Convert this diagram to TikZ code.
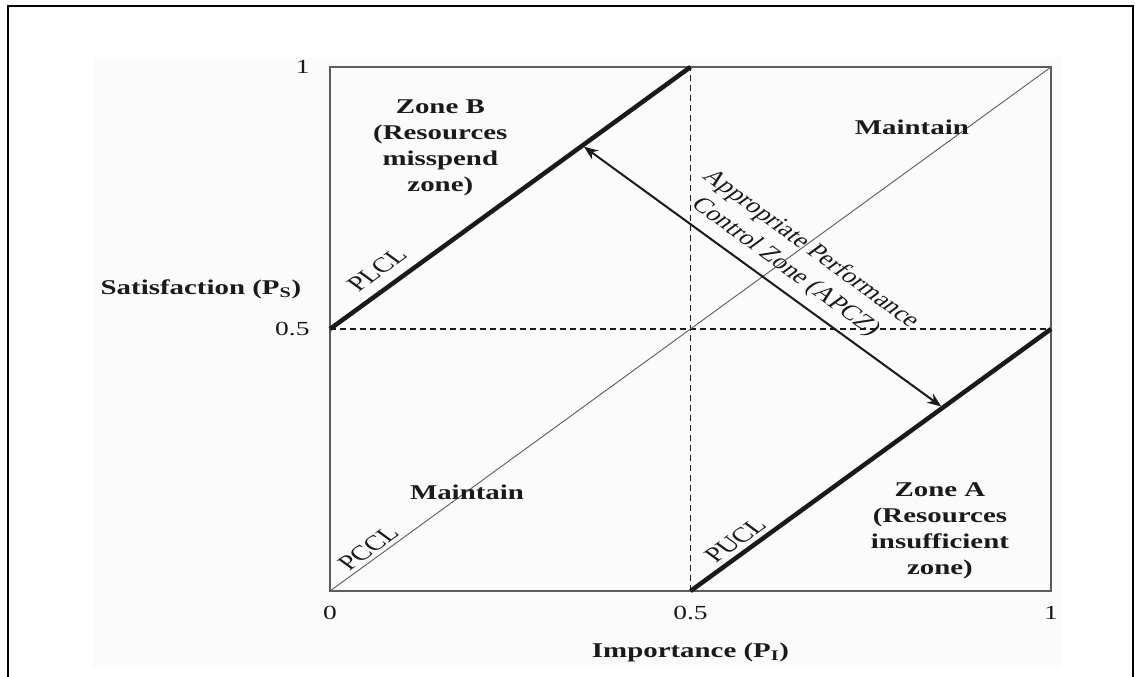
\documentclass[tikz,border=0pt]{standalone}
\usepackage{fontspec}
\setmainfont{Liberation Serif}
\usepackage{tikz}
\usetikzlibrary{arrows.meta}
\definecolor{ink}{HTML}{1A1A1A}
\definecolor{framegray}{HTML}{5C5C5C}
\definecolor{panel}{HTML}{FBFBFB}

\begin{document}
\begin{tikzpicture}[x=1pt,y=-1pt,
    every node/.style={font=\fontsize{21}{26}\selectfont,text=ink,inner sep=0pt,xscale=1.376},
    zonetext/.style={font=\fontsize{21}{26}\selectfont\bfseries,align=center},
    ticklabel/.style={font=\fontsize{20}{24}\selectfont},
    linelabel/.style={rotate=45},
    limit/.style={ink,line width=4.5pt},
    guide/.style={ink,line width=1.4pt,dash pattern=on 6pt off 4pt}]
    \useasboundingbox (0,0) rectangle (1135,677);
    \draw[black,line width=2pt] (8,677) -- (8,6) -- (1133,6) -- (1133,677);
    \fill[panel] (93,57) rectangle (1062,668);
    \begin{scope}[shift={(330,591)},x=721pt,y=524pt]
      % grid of the plot
      \draw[framegray,line width=1.4pt] (0,0) rectangle (1,1);
      \draw[guide] (0.5,0) -- (0.5,1);
      \draw[guide] (0,0.5) -- (1,0.5);
      \coordinate (pccl-a) at (0,0);
      \coordinate (pccl-b) at (1,1);
      \coordinate (plcl-a) at (0,0.5);
      \coordinate (plcl-b) at (0.5,1);
      \coordinate (pucl-a) at (0.5,0);
      \coordinate (pucl-b) at (1,0.5);
      \draw[framegray,line width=0.9pt] (pccl-a) -- (pccl-b);
      \draw[limit] (plcl-a) -- (plcl-b);
      \draw[limit] (pucl-a) -- (pucl-b);
      \coordinate (apcz-top) at (0.35,0.85);
      \coordinate (apcz-bot) at (0.85,0.35);
      \draw[ink,line width=2pt,{Stealth[length=14pt,width=11pt]}-{Stealth[length=14pt,width=11pt]},shorten <=2pt,shorten >=2pt] (apcz-top) -- (apcz-bot);
      % ticks
      \foreach \t/\n in {0/xzero,0.5/xhalf,1/xone}
        \node[ticklabel] (\n) at (\t,-0.042) {\t};
      \foreach \t/\n in {0.5/yhalf,1/yone}
        \node[ticklabel,anchor=east] (\n) at (-0.028,\t) {\t};
      \node[font=\fontsize{21}{26}\selectfont\bfseries] (satisfaction) at (-0.179,0.576) {Satisfaction (P\textsubscript{S})};
      \node[font=\fontsize{21}{26}\selectfont\bfseries] (importance) at (0.5,-0.118) {Importance (P\textsubscript{I})};
      % zones
      \node[zonetext] (zoneb) at (0.153,0.846) {Zone B\\(Resources\\misspend\\zone)};
      \node[zonetext] (zonea) at (0.846,0.114) {Zone A\\(Resources\\insufficient\\zone)};
      \node[zonetext] (maintainup) at (0.807,0.884) {Maintain};
      \node[zonetext] (maintainlow) at (0.190,0.189) {Maintain};
      \node[linelabel] (plcl) at (0.065,0.613) {PLCL};
      \node[linelabel] (pccl) at (0.053,0.082) {PCCL};
      \node[linelabel] (pucl) at (0.562,0.097) {PUCL};
      \node[align=center,rotate=-45] (apcz) at (0.649,0.635) {Appropriate Performance\\Control Zone (APCZ)};
    \end{scope}
\end{tikzpicture}
\end{document}
